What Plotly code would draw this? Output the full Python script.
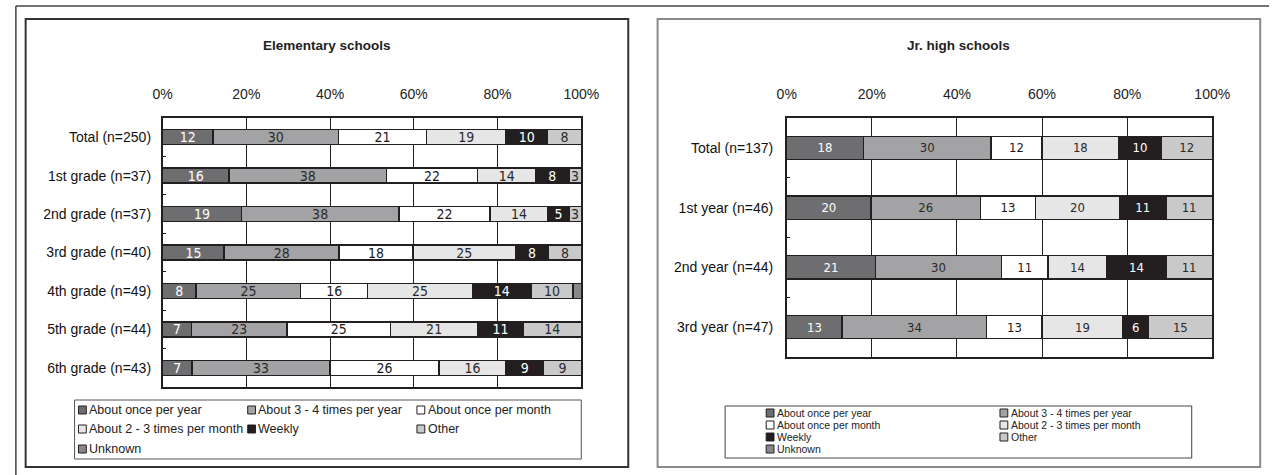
import plotly.graph_objects as go

W, H = 1287, 475

# ---------------- data ----------------
series = ["About once per year", "About 3 - 4 times per year", "About once per month",
          "About 2 - 3 times per month", "Weekly", "Other", "Unknown"]

elem_cats = ["Total (n=250)", "1st grade (n=37)", "2nd grade (n=37)", "3rd grade (n=40)",
             "4th grade (n=49)", "5th grade (n=44)", "6th grade (n=43)"]
elem_once_year = [12, 16, 19, 15, 8, 7, 7]
elem_3_4_year = [30, 38, 38, 28, 25, 23, 33]
elem_once_month = [21, 22, 22, 18, 16, 25, 26]
elem_2_3_month = [19, 14, 14, 25, 25, 21, 16]
elem_weekly = [10, 8, 5, 8, 14, 11, 9]
elem_other = [8, 3, 3, 8, 10, 14, 9]
elem_unknown = [0, 0, 0, 0, 2, 0, 0]

jr_cats = ["Total (n=137)", "1st year (n=46)", "2nd year (n=44)", "3rd year (n=47)"]
jr_once_year = [18, 20, 21, 13]
jr_3_4_year = [30, 26, 30, 34]
jr_once_month = [12, 13, 11, 13]
jr_2_3_month = [18, 20, 14, 19]
jr_weekly = [10, 11, 14, 6]
jr_other = [12, 11, 11, 15]
jr_unknown = [0, 0, 0, 0]

pct_ticks = [0, 20, 40, 60, 80, 100]
pct_labels = ["0%", "20%", "40%", "60%", "80%", "100%"]

# ---------------- styles ----------------
colors = ["#6e6e70", "#a3a3a5", "#ffffff", "#e6e6e7", "#231f20", "#c9c9ca", "#88888a"]
text_colors = ["#ffffff", "#2a2a2a", "#1a1a1a", "#2a2a2a", "#ffffff", "#2a2a2a", "#ffffff"]
show_text = [True, True, True, True, True, True, False]
NARROW = "Liberation Sans Narrow, DejaVu Sans Condensed, Roboto Condensed, Liberation Sans, Arial"
SANS = "Liberation Sans, Arial, sans-serif"
DARK = "#231f20"

elem_data = [elem_once_year, elem_3_4_year, elem_once_month, elem_2_3_month,
             elem_weekly, elem_other, elem_unknown]
jr_data = [jr_once_year, jr_3_4_year, jr_once_month, jr_2_3_month,
           jr_weekly, jr_other, jr_unknown]


def px(x):
    return x / W


def py(y):
    return 1 - y / H


fig = go.Figure()

for i, name in enumerate(series):
    for cats, data, xa, ya, fs in [(elem_cats, elem_data, "x", "y", 14),
                                   (jr_cats, jr_data, "x2", "y2", 13)]:
        vals = data[i]
        txt = [str(v) if (v > 0 and show_text[i]) else "" for v in vals]
        fig.add_trace(go.Bar(
            y=cats, x=vals, orientation="h", name=name,
            xaxis=xa, yaxis=ya, showlegend=False,
            marker=dict(color=colors[i], line=dict(color=DARK, width=1.4)),
            text=txt, textposition="inside", insidetextanchor="middle",
            textangle=0, constraintext="none",
            textfont=dict(family=NARROW, size=fs, color=text_colors[i]),
            hoverinfo="x+y+name",
        ))

axis_common = dict(
    range=[0, 100], tickvals=pct_ticks, ticktext=pct_labels, side="top",
    showgrid=True, gridcolor=DARK, gridwidth=1, zeroline=False,
    showline=True, mirror=True, linecolor=DARK, linewidth=1.5,
    ticks="", tickfont=dict(family=SANS, size=14, color="#222"),
    ticklabelstandoff=12, fixedrange=True,
)
yaxis_common = dict(
    type="category", ticks="inside", tickson="boundaries", ticklen=4,
    tickcolor=DARK, tickwidth=1, showline=True, mirror=True, linecolor=DARK,
    linewidth=1.5, showgrid=False, zeroline=False, fixedrange=True,
)

fig.update_layout(
    width=W, height=H, margin=dict(l=0, r=0, t=0, b=0),
    paper_bgcolor="white", plot_bgcolor="white",
    barmode="stack", barnorm="percent", bargap=0.61,
    showlegend=False,
    xaxis=dict(domain=[px(156), px(584)], anchor="y", **axis_common),
    yaxis=dict(domain=[py(387), py(118)], anchor="x", range=[6.5, -0.5],
               tickfont=dict(family=SANS, size=14, color="#111"),
               ticklabelstandoff=7, **yaxis_common),
    xaxis2=dict(domain=[px(794), px(1229)], anchor="y2", **axis_common),
    yaxis2=dict(domain=[py(357), py(118)], anchor="x2", range=[3.5, -0.5],
                tickfont=dict(family=SANS, size=14, color="#111"),
                ticklabelstandoff=9, **yaxis_common),
)

shapes = []
annotations = []


def rect(x0, y0, x1, y1, color, width, fill=None):
    shapes.append(dict(type="rect", xref="paper", yref="paper",
                       x0=px(x0), x1=px(x1), y0=py(y1), y1=py(y0),
                       line=dict(color=color, width=width),
                       fillcolor=fill if fill else "rgba(0,0,0,0)", layer="above"))


def line(x0, y0, x1, y1, color, width):
    shapes.append(dict(type="line", xref="paper", yref="paper",
                       x0=px(x0), x1=px(x1), y0=py(y0), y1=py(y1),
                       line=dict(color=color, width=width)))


# outer frame pieces
line(6, 6, W, 6, "#444", 1.5)
line(6, 6, 6, H, "#444", 1.5)
# panel boxes
rect(16, 19, 632, 467, "#333", 2)
rect(662, 19, 1278, 467, "#8a8a8a", 2)
# legend boxes
rect(66, 400, 584, 459, "#555", 1)
rect(731, 406, 1208, 458, "#444", 1)

# titles
annotations.append(dict(text="<b>Elementary schools</b>", x=px(324), y=py(46), xref="paper",
                        yref="paper", showarrow=False, xanchor="center", yanchor="middle",
                        font=dict(family=SANS, size=13.5, color="#222")))
annotations.append(dict(text="<b>Jr. high schools</b>", x=px(970), y=py(46), xref="paper",
                        yref="paper", showarrow=False, xanchor="center", yanchor="middle",
                        font=dict(family=SANS, size=13.5, color="#222")))

# legends (manual to match compact layout)
left_cols = [70, 243, 416]
left_rows = [410, 429, 449]
right_cols = [773, 1012]
right_rows = [413, 425, 437, 449]
for k, name in enumerate(series):
    for cols, rows, ncol, fsz in [(left_cols, left_rows, 3, 12.5), (right_cols, right_rows, 2, 10.5)]:
        cx = cols[k % ncol]
        cy = rows[k // ncol]
        rect(cx, cy - 4, cx + 8, cy + 4, DARK, 1, fill=colors[k])
        annotations.append(dict(text=name, x=px(cx + 10), y=py(cy), xref="paper", yref="paper",
                                showarrow=False, xanchor="left", yanchor="middle",
                                borderpad=0,
                                font=dict(family=SANS, size=fsz, color="#222")))

fig.update_layout(shapes=shapes, annotations=annotations)

fig.write_html("out.html")
